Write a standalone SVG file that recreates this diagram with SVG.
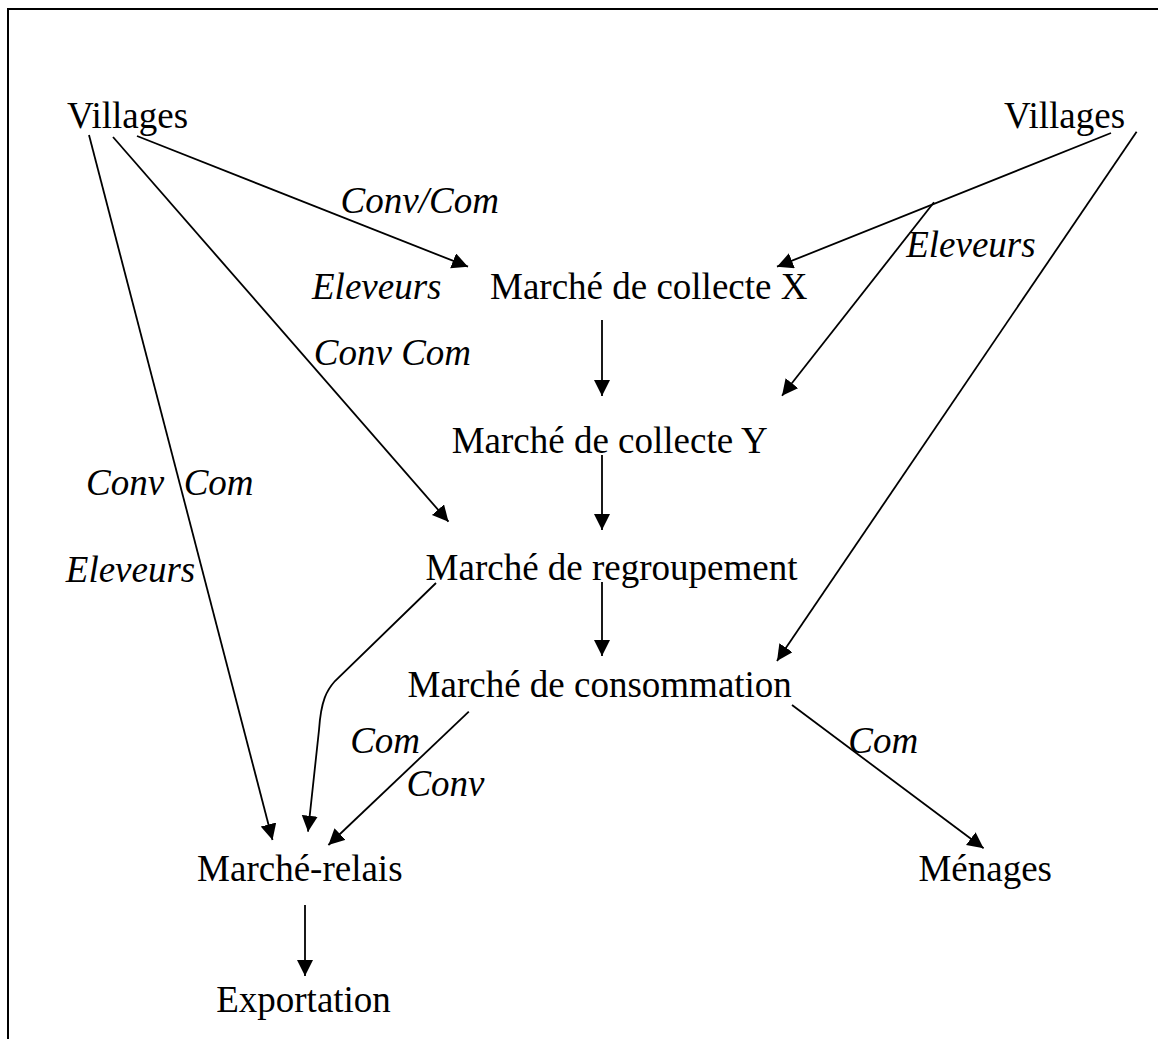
<svg xmlns="http://www.w3.org/2000/svg" width="1158" height="1039" viewBox="0 0 1158 1039">
<style>
  .n { font-family: "Liberation Serif", "Times New Roman", serif; font-size: 37px; fill: #000; }
  .l { font-family: "Liberation Serif", "Times New Roman", serif; font-size: 37px; font-style: italic; fill: #000; }
  .c { stroke: #000; stroke-width: 1.8; fill: none; }
  .a { marker-end: url(#arr); }
  .frame { stroke: #000; stroke-width: 2; fill: none; }
</style>
<defs>
  <marker id="arr" markerUnits="userSpaceOnUse" markerWidth="17" markerHeight="17" refX="16" refY="8" orient="auto">
    <path d="M0,0 L16,8 L0,16 z" fill="#000"/>
  </marker>
</defs>
<rect width="1158" height="1039" fill="#fff"/>
<path class="frame" d="M8,1039 L8,9 L1158,9"/>

<g id="connectors">
  <line class="c a" x1="89" y1="135" x2="272.5" y2="840"/>
  <line class="c a" x1="113" y1="137" x2="448.5" y2="521.7"/>
  <line class="c a" x1="137" y1="136" x2="468" y2="266.7"/>
  <line class="c a" x1="1111" y1="133" x2="777" y2="266.7"/>
  <line class="c a" x1="934" y1="202.3" x2="782" y2="395.7"/>
  <line class="c a" x1="1136.6" y1="131.7" x2="777" y2="661"/>
  <line class="c a" x1="602" y1="320" x2="602" y2="396"/>
  <line class="c a" x1="602" y1="455" x2="602" y2="530"/>
  <line class="c a" x1="602" y1="582" x2="602" y2="656"/>
  <path class="c a" d="M436,583 L335,681 C327,690 321,700 319,730 L308,831.7"/>
  <line class="c a" x1="468.8" y1="711.7" x2="328.4" y2="845"/>
  <line class="c a" x1="792" y1="705" x2="983.6" y2="848.3"/>
  <line class="c a" x1="305" y1="905" x2="305" y2="976"/>
</g>

<g id="villages-left"><text class="n" x="67" y="127.7">Villages</text></g>
<g id="villages-right"><text class="n" x="1004" y="127.7">Villages</text></g>
<g id="marche-collecte-x"><text class="n" x="490" y="299">Marché de collecte X</text></g>
<g id="marche-collecte-y"><text class="n" x="451.7" y="452.7">Marché de collecte Y</text></g>
<g id="marche-regroupement"><text class="n" x="425.6" y="580">Marché de regroupement</text></g>
<g id="marche-consommation"><text class="n" x="407.6" y="696.7">Marché de consommation</text></g>
<g id="marche-relais"><text class="n" x="197.1" y="880.7">Marché-relais</text></g>
<g id="menages"><text class="n" x="918.4" y="880.7">Ménages</text></g>
<g id="exportation"><text class="n" x="216.2" y="1011.7">Exportation</text></g>

<g id="labels">
  <text class="l" x="340.6" y="213.3">Conv/Com</text>
  <text class="l" x="312" y="299">Eleveurs</text>
  <text class="l" x="313.8" y="365">Conv Com</text>
  <text class="l" x="906.2" y="256.7">Eleveurs</text>
  <text class="l" x="86.1" y="495">Conv</text>
  <text class="l" x="183.7" y="495">Com</text>
  <text class="l" x="65.8" y="581.7">Eleveurs</text>
  <text class="l" x="350.2" y="753.3">Com</text>
  <text class="l" x="406.4" y="796">Conv</text>
  <text class="l" x="848.3" y="753.3">Com</text>
</g>
</svg>
